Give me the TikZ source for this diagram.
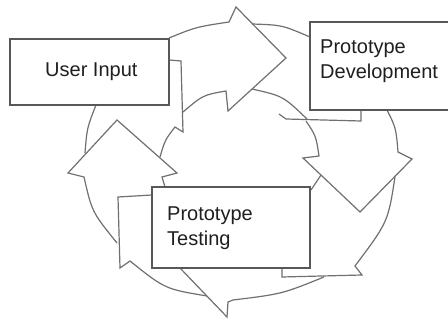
\documentclass[tikz,border=0pt]{standalone}
\usepackage{fontspec}
\setmainfont{Liberation Sans}
\definecolor{boxgray}{RGB}{88,88,88}
\definecolor{arrgray}{RGB}{112,112,112}
\begin{document}
\begin{tikzpicture}[x=1pt,y=-1pt,
  boxshape/.style={draw=boxgray, line width=1.5pt, fill=white, inner sep=0pt, outer sep=0pt},
  lbl/.style={inner sep=0pt, anchor=north west, align=left, font=\fontsize{20}{25}\selectfont, text=black!88},
  arrline/.style={draw=arrgray, line width=1.2pt, line join=miter}]
\clip (0,0) rectangle (448,320);
\useasboundingbox (0,0) rectangle (448,320);
\fill[white] (0,0) rectangle (448,320);

% top arrow (pointing right)
\draw[arrline] (96,105) .. controls (87,128) .. (85,153);
\draw[arrline] (169,38) .. controls (196,27) .. (229,22) -- (236,7) -- (286,58) -- (228,111) -- (226,91) .. controls (203,95) .. (183,112);
\draw[arrline] (169,60) -- (181,61) -- (183,132) -- (175,127) .. controls (165,140) .. (160,157);

% right arrow (pointing down)
\draw[arrline] (252,24) .. controls (282,25) .. (310,37);
\draw[arrline] (252,89) .. controls (283,96) .. (307,119);
\draw[arrline] (279,114) -- (286,119) -- (361,121) -- (361,110);
\draw[arrline] (387,110) .. controls (396,128) .. (398,152) -- (412,159) -- (360,212) -- (303,158) -- (319,156) .. controls (316,136) .. (306,121);

% bottom arrow (pointing left)
\draw[arrline] (395,177) .. controls (388,222) .. (355,266) -- (362,275) -- (282,277) -- (282,268);
\draw[arrline] (321,175) -- (311,190);
\draw[arrline] (324,277) .. controls (282,294) .. (233,300) -- (228,302) -- (227,317) -- (180,268);

% left arrow (pointing up)
\draw[arrline] (152,195) -- (118,197) -- (120,268) -- (130,261) .. controls (165,289) .. (207,296);
\draw[arrline] (117,243) .. controls (92,212) .. (84,177) -- (68,173) -- (117,120) -- (177,173) -- (162,177) -- (165,187);

% boxes
\node[boxshape, minimum width=159pt, minimum height=66pt] (ui) at (89.5,72) {};
\node[boxshape, minimum width=142pt, minimum height=88pt] (dev) at (381,66) {};
\node[boxshape, minimum width=158pt, minimum height=81pt] (test) at (231,227.5) {};

\node[lbl] (uit) at (45,63) {User Input};
\node[lbl] (devt) at (320,40) {Prototype\\Development};
\node[lbl] (testt) at (167,207) {Prototype\\Testing};
\end{tikzpicture}
\end{document}
